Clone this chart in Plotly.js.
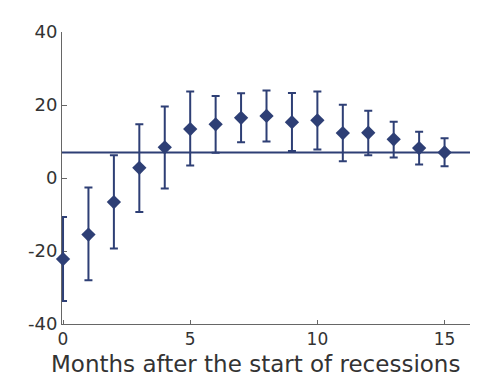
<!DOCTYPE html>
<html>
<head>
<meta charset="utf-8">
<script src="https://cdn.plot.ly/plotly-3.0.1.min.js"></script>
<style>html,body{margin:0;padding:0;background:#fff;}#chart{width:487px;height:378px;}</style>
</head>
<body>
<div id="chart"></div>
<script>
const months = [0, 1, 2, 3, 4, 5, 6, 7, 8, 9, 10, 11, 12, 13, 14, 15];
const estimate = [-22.2, -15.5, -6.6, 2.8, 8.4, 13.4, 14.7, 16.5, 17.0, 15.3, 15.8, 12.3, 12.4, 10.6, 8.2, 7.0];
const upper = [-10.7, -2.6, 6.2, 14.7, 19.6, 23.7, 22.5, 23.2, 24.0, 23.3, 23.7, 20.1, 18.4, 15.4, 12.7, 10.9];
const lower = [-33.7, -28.0, -19.3, -9.3, -2.9, 3.4, 6.9, 9.8, 10.0, 7.4, 7.8, 4.6, 6.2, 5.6, 3.7, 3.2];
const baselineX = [-0.04, 16];
const baselineY = [7, 7];
const xTicks = [0, 5, 10, 15];
const yTicks = [-40, -20, 0, 20, 40];
const xTitle = 'Months after the start of recessions';

const navy = '#2e3f75';
const errPlus = upper.map((u, i) => u - estimate[i]);
const errMinus = lower.map((l, i) => estimate[i] - l);

const traces = [
  {
    x: baselineX, y: baselineY, mode: 'lines', type: 'scatter',
    line: {color: navy, width: 2}, hoverinfo: 'skip', showlegend: false
  },
  {
    x: months, y: estimate, mode: 'markers', type: 'scatter', cliponaxis: false,
    marker: {symbol: 'diamond', size: 11, color: navy},
    error_y: {type: 'data', symmetric: false, array: errPlus, arrayminus: errMinus,
              color: navy, thickness: 2, width: 4},
    showlegend: false
  }
];

const font = 'DejaVu Sans, Arial, sans-serif';
const layout = {
  width: 487, height: 378,
  margin: {l: 62, r: 17, t: 32, b: 54},
  paper_bgcolor: '#fff', plot_bgcolor: '#fff',
  showlegend: false,
  xaxis: {
    range: [-0.04, 16], tickvals: xTicks, ticktext: xTicks.map(String),
    showgrid: false, zeroline: false, showline: true, linecolor: '#666', linewidth: 1,
    ticks: 'inside', ticklen: 4, tickcolor: '#666', layer: 'below traces',
    tickfont: {family: font, size: 17, color: '#333'}
  },
  yaxis: {
    range: [-40, 40], tickvals: yTicks, ticktext: yTicks.map(String),
    showgrid: false, zeroline: false, showline: true, linecolor: '#666', linewidth: 1,
    ticks: 'inside', ticklen: 5, tickcolor: '#666', layer: 'below traces',
    tickfont: {family: font, size: 18, color: '#333'}
  },
  annotations: [{
    text: xTitle, xref: 'paper', yref: 'paper', x: 0.475, y: 0,
    xanchor: 'center', yanchor: 'top', yshift: -25, showarrow: false,
    font: {family: font, size: 23, color: '#333'}
  }]
};

Plotly.newPlot('chart', traces, layout, {displayModeBar: false, staticPlot: true});
</script>
</body>
</html>
